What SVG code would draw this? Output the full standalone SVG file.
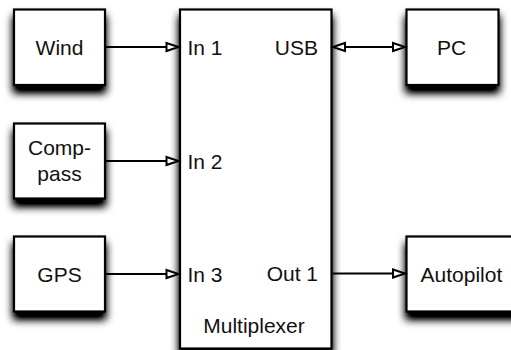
<svg xmlns="http://www.w3.org/2000/svg" width="511" height="350" viewBox="0 0 511 350">
  <style>
    .box { fill: #ffffff; stroke: #000000; stroke-width: 2.2; filter: url(#shadow); }
    .lbl { font-family: "Liberation Sans", Arial, Helvetica, sans-serif; font-size: 21px; fill: #111111; }
    .mid { text-anchor: middle; }
    .end { text-anchor: end; }
    .conn { fill: none; stroke: #000000; stroke-width: 2; }
  </style>
  <defs>
    <filter id="shadow" x="-30%" y="-30%" width="160%" height="170%">
      <feGaussianBlur in="SourceAlpha" stdDeviation="4.5"/>
      <feOffset dx="0" dy="7" result="b"/>
      <feComponentTransfer><feFuncA type="linear" slope="1.3"/></feComponentTransfer>
      <feMerge><feMergeNode/><feMergeNode in="SourceGraphic"/></feMerge>
    </filter>
    <marker id="arrow" viewBox="0 0 15 11" refX="14" refY="5.5" markerWidth="15" markerHeight="11" markerUnits="userSpaceOnUse" orient="auto-start-reverse" overflow="visible">
      <path d="M1.5,1.5 L13.5,5.5 L1.5,9.5 Z" fill="#ffffff" stroke="#000000" stroke-width="2" stroke-linejoin="miter"/>
    </marker>
  </defs>
  <rect width="511" height="350" fill="#ffffff"/>

  <g id="multiplexer">
    <rect class="box" x="180" y="9.5" width="151.5" height="339"/>
    <text class="lbl" x="187.5" y="54.5">In 1</text>
    <text class="lbl" x="187.5" y="168.5">In 2</text>
    <text class="lbl" x="187.5" y="281.5">In 3</text>
    <text class="lbl end" x="318" y="54.5">USB</text>
    <text class="lbl end" x="318" y="281">Out 1</text>
    <text class="lbl mid" x="254" y="332.5">Multiplexer</text>
  </g>
  <g id="wind">
    <rect class="box" x="14" y="9.5" width="91" height="75.5"/>
    <text class="lbl mid" x="59.5" y="55">Wind</text>
  </g>
  <g id="compass">
    <rect class="box" x="14" y="123.5" width="91" height="75"/>
    <text class="lbl mid" x="59.5" y="155">Comp-</text>
    <text class="lbl mid" x="59.5" y="181">pass</text>
  </g>
  <g id="gps">
    <rect class="box" x="14" y="236.5" width="91" height="75"/>
    <text class="lbl mid" x="59.5" y="281.5">GPS</text>
  </g>
  <g id="pc">
    <rect class="box" x="406.5" y="9.5" width="92" height="75.5"/>
    <text class="lbl mid" x="451.5" y="55">PC</text>
  </g>
  <g id="autopilot">
    <rect class="box" x="406.5" y="236.5" width="120" height="75"/>
    <text class="lbl" x="420.5" y="281.5">Autopilot</text>
  </g>

  <g id="connectors">
    <line class="conn" x1="106" y1="47" x2="179" y2="47" marker-end="url(#arrow)"/>
    <line class="conn" x1="106" y1="161" x2="179" y2="161" marker-end="url(#arrow)"/>
    <line class="conn" x1="106" y1="274" x2="179" y2="274" marker-end="url(#arrow)"/>
    <line class="conn" x1="332.5" y1="47" x2="405.5" y2="47" marker-start="url(#arrow)" marker-end="url(#arrow)"/>
    <line class="conn" x1="332.5" y1="273.5" x2="405.5" y2="273.5" marker-end="url(#arrow)"/>
  </g>
</svg>
